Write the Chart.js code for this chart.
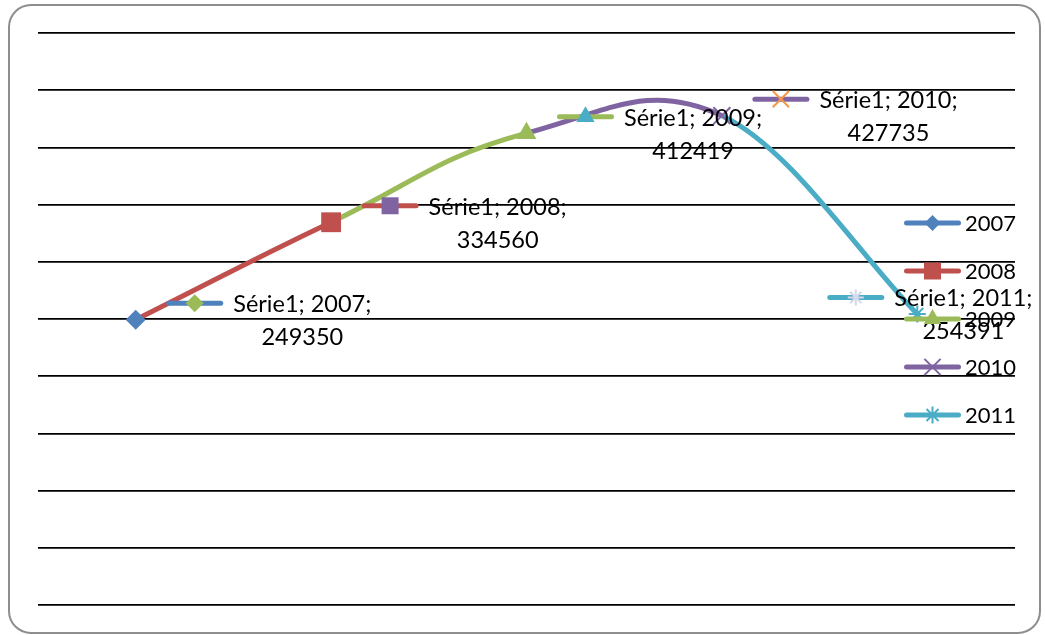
<!DOCTYPE html>
<html>
<head>
<meta charset="utf-8">
<script src="https://cdn.jsdelivr.net/npm/chart.js@4.4.0/dist/chart.umd.min.js"></script>
<style>
  html, body { margin: 0; padding: 0; background: #ffffff; }
  #wrap { width: 1045px; height: 635px; position: relative; }
</style>
</head>
<body>
<div id="wrap"><canvas id="c" width="1045" height="635"></canvas></div>
<script>
// ---- data ----
const categories = ['2007', '2008', '2009', '2010', '2011'];
const values = [249350, 334560, 412419, 427735, 254391];
const seriesName = 'Série1';
const yMin = 0;
const yMax = 500000;
const yStep = 50000;

// ---- styles ----
const pointColors = ['#4F81BD', '#C0504D', '#9BBB59', '#8064A2', '#4BACC6'];
const labelKeyMarkerColors = ['#9BBB59', '#8064A2', '#4BACC6', '#F79646', '#D3D8EA'];
const pointStyles = ['rectRot', 'rect', 'triangle', 'crossRot', 'star'];
const pointRadii = [10, 14, 11.5, 12, 8.5];
const keyRadii = [9, 12, 10.5, 11.5, 8];
const legendRadii = [8, 12, 10, 11.5, 8.5];
const labelSides = ['right', 'right', 'right', 'right', 'left'];
const LINE_W = 5;

function drawMarker(ctx, style, x, y, r, color) {
  ctx.save();
  ctx.fillStyle = color;
  ctx.strokeStyle = color;
  ctx.lineWidth = 2;
  ctx.lineCap = 'butt';
  ctx.beginPath();
  if (style === 'rectRot') {
    ctx.moveTo(x - r, y); ctx.lineTo(x, y - r); ctx.lineTo(x + r, y); ctx.lineTo(x, y + r);
    ctx.closePath(); ctx.fill();
  } else if (style === 'rect') {
    const s = Math.SQRT1_2 * r;
    ctx.rect(x - s, y - s, 2 * s, 2 * s); ctx.fill();
  } else if (style === 'triangle') {
    let a = 0;
    ctx.moveTo(x + Math.sin(a) * r, y - Math.cos(a) * r);
    a += 2 * Math.PI / 3;
    ctx.lineTo(x + Math.sin(a) * r, y - Math.cos(a) * r);
    a += 2 * Math.PI / 3;
    ctx.lineTo(x + Math.sin(a) * r, y - Math.cos(a) * r);
    ctx.closePath(); ctx.fill();
  } else if (style === 'crossRot') {
    const o = Math.SQRT1_2 * r;
    ctx.moveTo(x - o, y - o); ctx.lineTo(x + o, y + o);
    ctx.moveTo(x - o, y + o); ctx.lineTo(x + o, y - o);
    ctx.stroke();
  } else if (style === 'star') {
    const o = Math.SQRT1_2 * r;
    ctx.moveTo(x, y - r); ctx.lineTo(x, y + r);
    ctx.moveTo(x - r, y); ctx.lineTo(x + r, y);
    ctx.moveTo(x - o, y - o); ctx.lineTo(x + o, y + o);
    ctx.moveTo(x - o, y + o); ctx.lineTo(x + o, y - o);
    ctx.stroke();
  }
  ctx.restore();
}

function drawKey(ctx, cx, cy, lineColor, style, r, markerColor) {
  ctx.save();
  ctx.strokeStyle = lineColor;
  ctx.lineWidth = 5;
  ctx.lineCap = 'round';
  ctx.beginPath();
  ctx.moveTo(cx - 26, cy);
  ctx.lineTo(cx + 26, cy);
  ctx.stroke();
  ctx.restore();
  drawMarker(ctx, style, cx, cy, r, markerColor);
}

const framePlugin = {
  id: 'frame',
  beforeDraw(chart) {
    const ctx = chart.ctx;
    ctx.save();
    ctx.fillStyle = '#ffffff';
    ctx.fillRect(0, 0, chart.width, chart.height);
    ctx.strokeStyle = '#8e8e8e';
    ctx.lineWidth = 2;
    ctx.beginPath();
    ctx.roundRect(9, 5, 1031, 628, 22);
    ctx.stroke();
    ctx.restore();
  }
};

const dataLabelPlugin = {
  id: 'excelLabels',
  afterDatasetsDraw(chart) {
    const ctx = chart.ctx;
    const meta = chart.getDatasetMeta(0);
    meta.data.forEach((pt, i) => {
      const kx = labelSides[i] === 'left' ? pt.x - 61.5 : pt.x + 59;
      const ky = pt.y - 16.5;
      drawKey(ctx, kx, ky, pointColors[i], pointStyles[i], keyRadii[i], labelKeyMarkerColors[i]);
      ctx.save();
      ctx.font = '23.5px Lato';
      ctx.fillStyle = '#000000';
      ctx.textBaseline = 'alphabetic';
      const line1 = seriesName + '; ' + categories[i] + ';';
      const line2 = String(values[i]);
      const left = kx + 38.5;
      const w1 = ctx.measureText(line1).width;
      const center = left + w1 / 2;
      ctx.textAlign = 'center';
      ctx.fillText(line1, center, ky + 9);
      ctx.fillText(line2, center, ky + 42);
      ctx.restore();
    });
  }
};

const legendPlugin = {
  id: 'excelLegend',
  afterDraw(chart) {
    const ctx = chart.ctx;
    categories.forEach((cat, i) => {
      const y = 223 + 48 * i;
      drawKey(ctx, 932.5, y, pointColors[i], pointStyles[i], legendRadii[i], pointColors[i]);
      ctx.save();
      ctx.font = '22px Lato';
      ctx.fillStyle = '#000000';
      ctx.textAlign = 'left';
      ctx.textBaseline = 'middle';
      ctx.fillText(cat, 965, y + 1);
      ctx.restore();
    });
  }
};

const lastSeg = values.length - 2;

new Chart(document.getElementById('c'), {
  type: 'line',
  data: {
    labels: categories,
    datasets: [{
      // main smoothed series with markers (all segments except the last one)
      label: seriesName,
      data: values,
      borderColor: pointColors[1],
      borderWidth: LINE_W,
      tension: 0.45,
      fill: false,
      segment: {
        borderColor: (c) => c.p0DataIndex === lastSeg ? 'rgba(0,0,0,0)' : pointColors[c.p1DataIndex]
      },
      pointStyle: pointStyles,
      pointRadius: pointRadii,
      pointHoverRadius: pointRadii,
      pointBackgroundColor: pointColors,
      pointBorderColor: pointColors,
      pointBorderWidth: [0, 0, 0, 2, 2],
      clip: false
    }, {
      // same series: last segment with softer smoothing at the open end
      label: seriesName + ' (end)',
      data: values,
      borderColor: pointColors[4],
      borderWidth: LINE_W,
      tension: 0.3,
      fill: false,
      segment: {
        borderColor: (c) => c.p0DataIndex === lastSeg ? pointColors[c.p1DataIndex] : 'rgba(0,0,0,0)'
      },
      pointRadius: 0,
      pointHoverRadius: 0,
      clip: false
    }]
  },
  options: {
    responsive: false,
    animation: false,
    devicePixelRatio: 1,
    layout: { padding: { left: 38, right: 30, top: 33, bottom: 30 } },
    plugins: {
      legend: { display: false },
      tooltip: { enabled: false }
    },
    scales: {
      x: {
        offset: true,
        grid: { display: false, drawTicks: false },
        border: { display: false },
        ticks: { display: false }
      },
      y: {
        min: yMin,
        max: yMax,
        ticks: { display: false, stepSize: yStep },
        grid: { color: '#000000', lineWidth: 1.75, drawTicks: false },
        border: { display: false }
      }
    }
  },
  plugins: [framePlugin, dataLabelPlugin, legendPlugin]
});
</script>
</body>
</html>
